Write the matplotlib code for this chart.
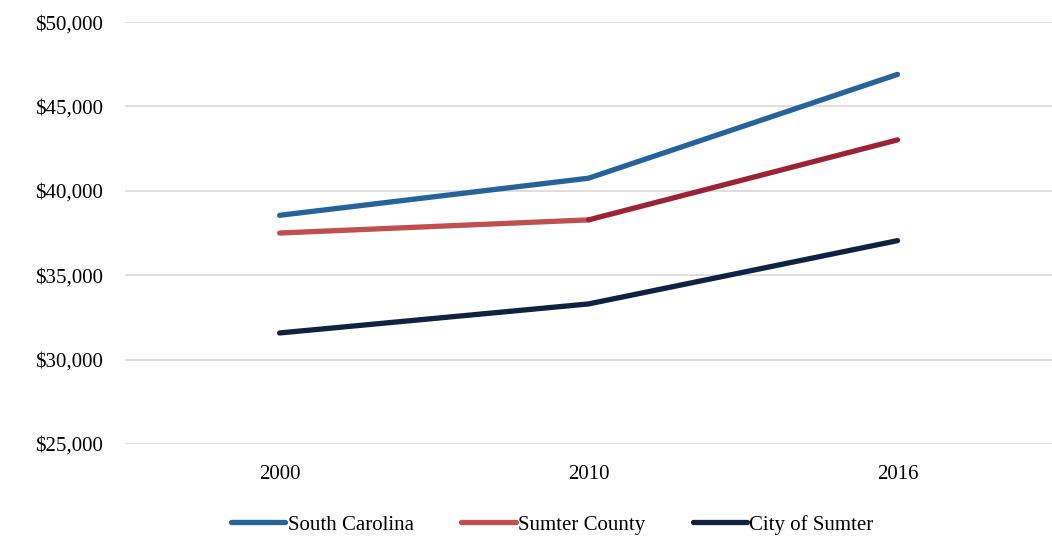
import matplotlib.pyplot as plt
from matplotlib.lines import Line2D
from matplotlib.ticker import FuncFormatter

# datos
years = ['2000', '2010', '2016']
south_carolina = [38550, 40750, 46900]
sumter_county = [37500, 38280, 43020]
city_of_sumter = [31580, 33300, 37050]

c_sc = '#25639a'
c_county = '#c0504d'
c_county2 = '#9b2335'
c_city = '#0d2341'

plt.rcParams['font.family'] = ['Liberation Serif', 'DejaVu Serif']

fig = plt.figure(figsize=(10.52, 5.38), dpi=100)
ax = fig.add_axes([0.119, 0.1747, 0.881, 0.7843])

x = list(range(len(years)))
lw = 3.8
ax.plot(x, south_carolina, color=c_sc, lw=lw, solid_capstyle='round', zorder=3)
ax.plot(x[:2], sumter_county[:2], color=c_county, lw=lw, solid_capstyle='round', zorder=3)
ax.plot(x[1:], sumter_county[1:], color=c_county2, lw=lw, solid_capstyle='round', zorder=3)
ax.plot(x, city_of_sumter, color=c_city, lw=lw, solid_capstyle='round', zorder=3)

ax.set_xlim(-0.5, 2.5)
ax.set_ylim(25000, 50000)
ax.set_yticks(range(25000, 50001, 5000))
ax.yaxis.set_major_formatter(FuncFormatter(lambda v, p: f'${v:,.0f}'))
ax.set_xticks(x)
ax.set_xticklabels(years)
ax.tick_params(length=0, labelsize=15, colors='black')
ax.tick_params(axis='y', pad=16)
ax.tick_params(axis='x', pad=15)
ax.grid(axis='y', color='#d9d9d9', lw=1.2)
ax.set_axisbelow(True)
for s in ax.spines.values():
    s.set_visible(False)

handles = [Line2D([], [], color=c, lw=lw, solid_capstyle='round') for c in (c_sc, c_county, c_city)]
fig.legend(handles, ['South Carolina', 'Sumter County', 'City of Sumter'],
           loc='center', bbox_to_anchor=(0.525, 0.025), ncol=3, frameon=False,
           fontsize=15, handlelength=2.6, handletextpad=0.1, columnspacing=2.3)

fig.savefig('out.png', dpi=100)
